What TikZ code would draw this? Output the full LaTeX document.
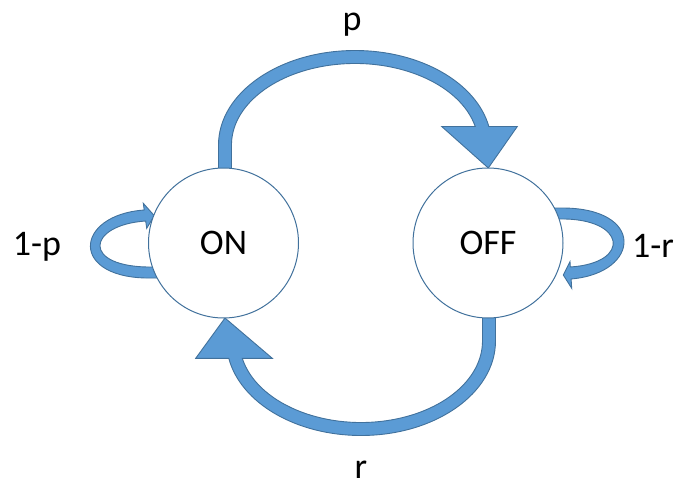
\documentclass[tikz,border=0pt]{standalone}
\usepackage{fontspec}
\setmainfont{Carlito}
\usetikzlibrary{backgrounds,calc}
\definecolor{afill}{HTML}{5B9BD5}
\definecolor{aline}{HTML}{41719C}
\begin{document}
\begin{tikzpicture}[x=1pt,y=1pt,
  state/.style={circle, draw=aline, line width=1pt, fill=white, minimum size=150pt, inner sep=0pt, font=\fontsize{36}{40}\selectfont},
  blockarrow/.style={fill=afill, draw=aline, line width=0.9pt, line join=miter},
  lbl/.style={font=\fontsize{36}{40}\selectfont, inner sep=0pt, anchor=base}]
\useasboundingbox (0,0) rectangle (675,-487);
\node[state] (ON) at (223.5,-243) {ON};
\node[state] (OFF) at (488,-243) {OFF};
\coordinate (mid) at ($(ON.center)!0.5!(OFF.center)$);
\begin{scope}[on background layer]
  % p : ON -> OFF
  \begin{scope}[shift={(mid)}]
    \draw[blockarrow] (-137.25,60) -- (-137.25,98)
      arc[start angle=180, end angle=11.29, x radius=136.5pt, y radius=94.5pt]
      -- (161.55,116.5) -- (132.55,75) -- (85.95,116.5) -- (119.5,116.5)
      arc[start angle=13.12, end angle=180, x radius=123.5pt, y radius=81.5pt]
      -- (-124.25,60) -- cycle;
    % r : OFF -> ON
    \draw[blockarrow] (139.75,-60) -- (139.75,-98)
      arc[start angle=0, end angle=-169.45, x radius=134.5pt, y radius=94.5pt]
      -- (-160.05,-115.3) -- (-130.75,-75) -- (-83.45,-115.3) -- (-113.48,-115.3)
      arc[start angle=-167.74, end angle=0, x radius=121.5pt, y radius=81.5pt]
      -- (126.75,-60) -- cycle;
  \end{scope}
  % 1-p : ON -> ON
  \begin{scope}[shift={(ON.center)}]
    \draw[blockarrow] (-62,-35) -- (-70.5,-35)
      .. controls (-155,-37) and (-150,28) .. (-79.3,33)
      -- (-80.2,39.7) -- (-69.2,27.3) -- (-76.8,14.7) -- (-77.8,22)
      .. controls (-137,18) and (-143,-25) .. (-70.5,-24)
      -- (-62,-24) -- cycle;
  \end{scope}
  % 1-r : OFF -> OFF
  \begin{scope}[shift={(OFF.center)}]
    \draw[blockarrow] (62,35) -- (72,35)
      .. controls (158,36) and (153,-30) .. (83.1,-36)
      -- (83.7,-45.3) -- (75.3,-32) -- (82,-18.7) -- (82.34,-24)
      .. controls (144,-20) and (138,25) .. (72,24)
      -- (62,24) -- cycle;
  \end{scope}
\end{scope}
\node[lbl] (lp) at (352,-31) {p};
\node[lbl] (lr) at (361,-478) {r};
\node[lbl] (l1p) at (37,-255) {1-p};
\node[lbl] (l1r) at (653,-257) {1-r};
\end{tikzpicture}
\end{document}
